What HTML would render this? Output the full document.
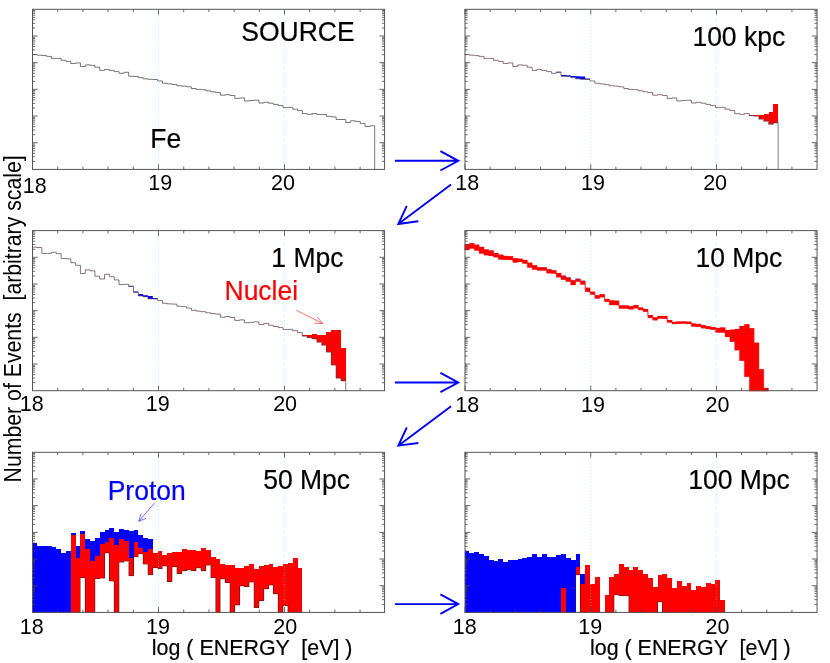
<!DOCTYPE html>
<html><head><meta charset="utf-8"><title>Fe propagation spectra</title>
<style>html,body{margin:0;padding:0;background:#fff;}body{width:830px;height:663px;overflow:hidden;position:relative;font-family:"Liberation Sans",sans-serif;}</style></head>
<body>
<svg width="830" height="663" viewBox="0 0 830 663" style="position:absolute;left:0;top:0;will-change:transform" font-family="'Liberation Sans', sans-serif">
<rect width="830" height="663" fill="#fff"/>
<path d="M32.2 54.5H37.02V55.2H41.85V55.6H46.67V56.4H51.5V58.4H56.32V58.4H61.14V60.3H65.97V61.4H70.79V63.5H75.62V62.9H80.44V66.5H85.26V64.9H90.09V65.3H94.91V67.2H99.74V70.4H104.56V69.4H109.38V70.4H114.21V71.6H119.03V73.3H123.86V72.3H128.68V76.2H133.5V76.5H138.33V77.6H143.15V78.8H147.98V79.3H152.8V79.5H157.62V81H162.45V83.2H167.27V83.9H172.1V84.6H176.92V85.8H181.74V86.1H186.57V86.8H191.39V88.5H196.22V89.4H201.04V89.7H205.86V90.8H210.69V91.8H215.51V92.6H220.34V95.2H225.16V94.7H229.98V95.5H234.81V98.4H239.63V97.9H244.46V101H249.28V100.5H254.1V100.2H258.93V103H263.75V102.3H268.58V103.2H273.4V104.4H278.22V105.6H283.05V107.6H287.87V107.3H292.7V109.2H297.52V110.6H302.34V113.6H307.17V114.3H311.99V113.6H316.82V114.5H321.64V114.5H326.46V116.3H331.29V116.9H336.11V119.5H340.94V119.5H345.76V122.5H350.58V120.8H355.41V121.4H360.23V123.4H365.06V126.5H369.88V125.8H374.7V169.1" fill="none" stroke="#4a4a4a" stroke-width="0.75"/>
<line x1="158.5" y1="9" x2="158.5" y2="169.4" stroke="#4ff" stroke-width="1" stroke-dasharray="1 2" opacity="0.42"/>
<line x1="284.5" y1="9" x2="284.5" y2="169.4" stroke="#4ff" stroke-width="1" stroke-dasharray="1 2" opacity="0.42"/>
<path d="M32.5 169.4v-5.2M32.5 9.3v5.2M57.7 169.4v-2.8M57.7 9.3v2.8M82.9 169.4v-2.8M82.9 9.3v2.8M108.1 169.4v-2.8M108.1 9.3v2.8M133.3 169.4v-2.8M133.3 9.3v2.8M158.5 169.4v-5.2M158.5 9.3v5.2M183.7 169.4v-2.8M183.7 9.3v2.8M208.9 169.4v-2.8M208.9 9.3v2.8M234.1 169.4v-2.8M234.1 9.3v2.8M259.3 169.4v-2.8M259.3 9.3v2.8M284.5 169.4v-5.2M284.5 9.3v5.2M309.7 169.4v-2.8M309.7 9.3v2.8M334.9 169.4v-2.8M334.9 9.3v2.8M360.1 169.4v-2.8M360.1 9.3v2.8M32.5 161.37h2.6M384.55 161.37h-2.6M32.5 156.67h2.6M384.55 156.67h-2.6M32.5 153.34h2.6M384.55 153.34h-2.6M32.5 150.75h2.6M384.55 150.75h-2.6M32.5 148.64h2.6M384.55 148.64h-2.6M32.5 146.85h2.6M384.55 146.85h-2.6M32.5 145.3h2.6M384.55 145.3h-2.6M32.5 143.94h2.6M384.55 143.94h-2.6M32.5 142.72h5.2M384.55 142.72h-5.2M32.5 134.68h2.6M384.55 134.68h-2.6M32.5 129.99h2.6M384.55 129.99h-2.6M32.5 126.65h2.6M384.55 126.65h-2.6M32.5 124.07h2.6M384.55 124.07h-2.6M32.5 121.95h2.6M384.55 121.95h-2.6M32.5 120.17h2.6M384.55 120.17h-2.6M32.5 118.62h2.6M384.55 118.62h-2.6M32.5 117.25h2.6M384.55 117.25h-2.6M32.5 116.03h5.2M384.55 116.03h-5.2M32.5 108h2.6M384.55 108h-2.6M32.5 103.3h2.6M384.55 103.3h-2.6M32.5 99.97h2.6M384.55 99.97h-2.6M32.5 97.38h2.6M384.55 97.38h-2.6M32.5 95.27h2.6M384.55 95.27h-2.6M32.5 93.48h2.6M384.55 93.48h-2.6M32.5 91.94h2.6M384.55 91.94h-2.6M32.5 90.57h2.6M384.55 90.57h-2.6M32.5 89.35h5.2M384.55 89.35h-5.2M32.5 81.32h2.6M384.55 81.32h-2.6M32.5 76.62h2.6M384.55 76.62h-2.6M32.5 73.29h2.6M384.55 73.29h-2.6M32.5 70.7h2.6M384.55 70.7h-2.6M32.5 68.59h2.6M384.55 68.59h-2.6M32.5 66.8h2.6M384.55 66.8h-2.6M32.5 65.25h2.6M384.55 65.25h-2.6M32.5 63.89h2.6M384.55 63.89h-2.6M32.5 62.67h5.2M384.55 62.67h-5.2M32.5 54.63h2.6M384.55 54.63h-2.6M32.5 49.94h2.6M384.55 49.94h-2.6M32.5 46.6h2.6M384.55 46.6h-2.6M32.5 44.02h2.6M384.55 44.02h-2.6M32.5 41.9h2.6M384.55 41.9h-2.6M32.5 40.12h2.6M384.55 40.12h-2.6M32.5 38.57h2.6M384.55 38.57h-2.6M32.5 37.2h2.6M384.55 37.2h-2.6M32.5 35.98h5.2M384.55 35.98h-5.2M32.5 27.95h2.6M384.55 27.95h-2.6M32.5 23.25h2.6M384.55 23.25h-2.6M32.5 19.92h2.6M384.55 19.92h-2.6M32.5 17.33h2.6M384.55 17.33h-2.6M32.5 15.22h2.6M384.55 15.22h-2.6M32.5 13.43h2.6M384.55 13.43h-2.6M32.5 11.89h2.6M384.55 11.89h-2.6M32.5 10.52h2.6M384.55 10.52h-2.6" stroke="#444" stroke-width="0.8" fill="none"/>
<rect x="32.5" y="9.3" width="352.05" height="160.1" fill="none" stroke="#555" stroke-width="1"/>
<text x="34.8" y="192.8" font-size="21.5" text-anchor="middle" fill="#000">18</text>
<text x="160.3" y="190" font-size="21.5" text-anchor="middle" fill="#000">19</text>
<text x="282.9" y="190" font-size="21.5" text-anchor="middle" fill="#000">20</text>
<path d="M749.22 114.7H754.04V115.6H749.22ZM754.04 114.7H758.86V116.2H754.04ZM758.86 115H763.69V119.2H758.86ZM763.69 113.8H768.51V121.3H763.69ZM768.51 112.3H773.34V124.3H768.51ZM773.34 103.8H778.16V122.8H773.34Z" fill="#f00" stroke="none" shape-rendering="crispEdges"/>
<path d="M556.26 71.8H561.08V72.4H556.26ZM561.08 74.9H565.9V76.2H561.08ZM565.9 75.3H570.73V76.6H565.9ZM570.73 75.9H575.55V77.6H570.73ZM575.55 76.3H580.38V78.8H575.55ZM580.38 76.5H585.2V79.3H580.38ZM585.2 78.6H590.02V79.5H585.2Z" fill="#00f" stroke="none"/>
<path d="M464.6 54.5H469.42V55.2H474.25V55.6H479.07V56.4H483.9V58.4H488.72V58.4H493.54V60.3H498.37V61.4H503.19V63.5H508.02V62.9H512.84V66.5H517.66V64.9H522.49V65.3H527.31V67.2H532.14V70.4H536.96V69.4H541.78V70.4H546.61V71.6H551.43V73.3H556.26V72.3H561.08V76.2H565.9V76.5H570.73V77.6H575.55V78.8H580.38V79.3H585.2V79.5H590.02V81H594.85V83.2H599.67V83.9H604.5V84.6H609.32V85.8H614.14V86.1H618.97V86.8H623.79V88.5H628.62V89.4H633.44V89.7H638.26V90.8H643.09V91.8H647.91V92.6H652.74V95.2H657.56V94.7H662.38V95.5H667.21V98.4H672.03V97.9H676.86V101H681.68V100.5H686.5V100.2H691.33V103H696.15V102.3H700.98V103.2H705.8V104.4H710.62V105.6H715.45V107.6H720.27V107.3H725.1V109.2H729.92V110.6H734.74V113.6H739.57V114.3H744.39V113.6H749.22V115.6H754.04V116.2H758.86V119.2H763.69V121.3H768.51V124.3H773.34V122.8H778.16V169.1" fill="none" stroke="#5a3a46" stroke-width="0.7"/>
<line x1="590.75" y1="9" x2="590.75" y2="169.4" stroke="#4ff" stroke-width="1" stroke-dasharray="1 2" opacity="0.42"/>
<line x1="716.5" y1="9" x2="716.5" y2="169.4" stroke="#4ff" stroke-width="1" stroke-dasharray="1 2" opacity="0.42"/>
<path d="M465 169.4v-5.2M465 9.3v5.2M490.15 169.4v-2.8M490.15 9.3v2.8M515.3 169.4v-2.8M515.3 9.3v2.8M540.45 169.4v-2.8M540.45 9.3v2.8M565.6 169.4v-2.8M565.6 9.3v2.8M590.75 169.4v-5.2M590.75 9.3v5.2M615.9 169.4v-2.8M615.9 9.3v2.8M641.05 169.4v-2.8M641.05 9.3v2.8M666.2 169.4v-2.8M666.2 9.3v2.8M691.35 169.4v-2.8M691.35 9.3v2.8M716.5 169.4v-5.2M716.5 9.3v5.2M741.65 169.4v-2.8M741.65 9.3v2.8M766.8 169.4v-2.8M766.8 9.3v2.8M791.95 169.4v-2.8M791.95 9.3v2.8M465 161.37h2.6M817.05 161.37h-2.6M465 156.67h2.6M817.05 156.67h-2.6M465 153.34h2.6M817.05 153.34h-2.6M465 150.75h2.6M817.05 150.75h-2.6M465 148.64h2.6M817.05 148.64h-2.6M465 146.85h2.6M817.05 146.85h-2.6M465 145.3h2.6M817.05 145.3h-2.6M465 143.94h2.6M817.05 143.94h-2.6M465 142.72h5.2M817.05 142.72h-5.2M465 134.68h2.6M817.05 134.68h-2.6M465 129.99h2.6M817.05 129.99h-2.6M465 126.65h2.6M817.05 126.65h-2.6M465 124.07h2.6M817.05 124.07h-2.6M465 121.95h2.6M817.05 121.95h-2.6M465 120.17h2.6M817.05 120.17h-2.6M465 118.62h2.6M817.05 118.62h-2.6M465 117.25h2.6M817.05 117.25h-2.6M465 116.03h5.2M817.05 116.03h-5.2M465 108h2.6M817.05 108h-2.6M465 103.3h2.6M817.05 103.3h-2.6M465 99.97h2.6M817.05 99.97h-2.6M465 97.38h2.6M817.05 97.38h-2.6M465 95.27h2.6M817.05 95.27h-2.6M465 93.48h2.6M817.05 93.48h-2.6M465 91.94h2.6M817.05 91.94h-2.6M465 90.57h2.6M817.05 90.57h-2.6M465 89.35h5.2M817.05 89.35h-5.2M465 81.32h2.6M817.05 81.32h-2.6M465 76.62h2.6M817.05 76.62h-2.6M465 73.29h2.6M817.05 73.29h-2.6M465 70.7h2.6M817.05 70.7h-2.6M465 68.59h2.6M817.05 68.59h-2.6M465 66.8h2.6M817.05 66.8h-2.6M465 65.25h2.6M817.05 65.25h-2.6M465 63.89h2.6M817.05 63.89h-2.6M465 62.67h5.2M817.05 62.67h-5.2M465 54.63h2.6M817.05 54.63h-2.6M465 49.94h2.6M817.05 49.94h-2.6M465 46.6h2.6M817.05 46.6h-2.6M465 44.02h2.6M817.05 44.02h-2.6M465 41.9h2.6M817.05 41.9h-2.6M465 40.12h2.6M817.05 40.12h-2.6M465 38.57h2.6M817.05 38.57h-2.6M465 37.2h2.6M817.05 37.2h-2.6M465 35.98h5.2M817.05 35.98h-5.2M465 27.95h2.6M817.05 27.95h-2.6M465 23.25h2.6M817.05 23.25h-2.6M465 19.92h2.6M817.05 19.92h-2.6M465 17.33h2.6M817.05 17.33h-2.6M465 15.22h2.6M817.05 15.22h-2.6M465 13.43h2.6M817.05 13.43h-2.6M465 11.89h2.6M817.05 11.89h-2.6M465 10.52h2.6M817.05 10.52h-2.6" stroke="#444" stroke-width="0.8" fill="none"/>
<rect x="465" y="9.3" width="352.05" height="160.1" fill="none" stroke="#555" stroke-width="1"/>
<text x="467.15" y="190" font-size="21.5" text-anchor="middle" fill="#000">18</text>
<text x="593.05" y="190" font-size="21.5" text-anchor="middle" fill="#000">19</text>
<text x="715.1" y="190" font-size="21.5" text-anchor="middle" fill="#000">20</text>
<path d="M302.34 334.7H307.17V336.2H302.34ZM307.17 334.7H311.99V337.6H307.17ZM311.99 334H316.82V338.8H311.99ZM316.82 334.7H321.64V342.3H316.82ZM321.64 334.7H326.46V345.3H321.64ZM326.46 332.1H331.29V352.1H326.46ZM331.29 329.7H336.11V365.1H331.29ZM336.11 329.7H340.94V378.2H336.11ZM340.94 348.1H345.76V380.8H340.94Z" fill="#f00" stroke="none" shape-rendering="crispEdges"/>
<path d="M128.68 285.8H133.5V286.6H128.68ZM133.5 291.6H138.33V292.4H133.5ZM138.33 294.1H143.15V296.1H138.33ZM143.15 295.2H147.98V296.9H143.15ZM147.98 296.1H152.8V299H147.98ZM152.8 298.1H157.62V298.9H152.8Z" fill="#00f" stroke="none"/>
<path d="M32.2 247.2H37.02V247.5H41.85V253.4H46.67V253.4H51.5V252.3H56.32V253.7H61.14V258.5H65.97V258.8H70.79V262.7H75.62V265.3H80.44V273.5H85.26V269.9H90.09V270.8H94.91V276.2H99.74V279H104.56V274.3H109.38V276.7H114.21V279.9H119.03V284.6H123.86V284.4H128.68V286.5H133.5V292.3H138.33V295.9H143.15V296.7H147.98V298.8H152.8V298.9H157.62V300.5H162.45V303.3H167.27V303.9H172.1V304.1H176.92V306.3H181.74V306.6H186.57V308.1H191.39V310.3H196.22V311.1H201.04V311.7H205.86V312.8H210.69V313.6H215.51V314.1H220.34V317.3H225.16V316.5H229.98V317.5H234.81V320.4H239.63V319.9H244.46V322.7H249.28V322.3H254.1V321.9H258.93V324.6H263.75V323.4H268.58V325.3H273.4V326.5H278.22V327.6H283.05V329.5H287.87V329.4H292.7V330.7H297.52V332.6H302.34V336.2H307.17V337.6H311.99V338.8H316.82V342.3H321.64V345.3H326.46V352.1H331.29V365.1H336.11V378.2H340.94V380.8H345.76V391.2" fill="none" stroke="#5a3a46" stroke-width="0.7"/>
<line x1="158.5" y1="230" x2="158.5" y2="390.7" stroke="#4ff" stroke-width="1" stroke-dasharray="1 2" opacity="0.42"/>
<line x1="284.5" y1="230" x2="284.5" y2="390.7" stroke="#4ff" stroke-width="1" stroke-dasharray="1 2" opacity="0.42"/>
<path d="M32.5 390.7v-5.2M32.5 230.6v5.2M57.7 390.7v-2.8M57.7 230.6v2.8M82.9 390.7v-2.8M82.9 230.6v2.8M108.1 390.7v-2.8M108.1 230.6v2.8M133.3 390.7v-2.8M133.3 230.6v2.8M158.5 390.7v-5.2M158.5 230.6v5.2M183.7 390.7v-2.8M183.7 230.6v2.8M208.9 390.7v-2.8M208.9 230.6v2.8M234.1 390.7v-2.8M234.1 230.6v2.8M259.3 390.7v-2.8M259.3 230.6v2.8M284.5 390.7v-5.2M284.5 230.6v5.2M309.7 390.7v-2.8M309.7 230.6v2.8M334.9 390.7v-2.8M334.9 230.6v2.8M360.1 390.7v-2.8M360.1 230.6v2.8M32.5 382.67h2.6M384.55 382.67h-2.6M32.5 377.97h2.6M384.55 377.97h-2.6M32.5 374.64h2.6M384.55 374.64h-2.6M32.5 372.05h2.6M384.55 372.05h-2.6M32.5 369.94h2.6M384.55 369.94h-2.6M32.5 368.15h2.6M384.55 368.15h-2.6M32.5 366.6h2.6M384.55 366.6h-2.6M32.5 365.24h2.6M384.55 365.24h-2.6M32.5 364.02h5.2M384.55 364.02h-5.2M32.5 355.98h2.6M384.55 355.98h-2.6M32.5 351.29h2.6M384.55 351.29h-2.6M32.5 347.95h2.6M384.55 347.95h-2.6M32.5 345.37h2.6M384.55 345.37h-2.6M32.5 343.25h2.6M384.55 343.25h-2.6M32.5 341.47h2.6M384.55 341.47h-2.6M32.5 339.92h2.6M384.55 339.92h-2.6M32.5 338.55h2.6M384.55 338.55h-2.6M32.5 337.33h5.2M384.55 337.33h-5.2M32.5 329.3h2.6M384.55 329.3h-2.6M32.5 324.6h2.6M384.55 324.6h-2.6M32.5 321.27h2.6M384.55 321.27h-2.6M32.5 318.68h2.6M384.55 318.68h-2.6M32.5 316.57h2.6M384.55 316.57h-2.6M32.5 314.78h2.6M384.55 314.78h-2.6M32.5 313.24h2.6M384.55 313.24h-2.6M32.5 311.87h2.6M384.55 311.87h-2.6M32.5 310.65h5.2M384.55 310.65h-5.2M32.5 302.62h2.6M384.55 302.62h-2.6M32.5 297.92h2.6M384.55 297.92h-2.6M32.5 294.59h2.6M384.55 294.59h-2.6M32.5 292h2.6M384.55 292h-2.6M32.5 289.89h2.6M384.55 289.89h-2.6M32.5 288.1h2.6M384.55 288.1h-2.6M32.5 286.55h2.6M384.55 286.55h-2.6M32.5 285.19h2.6M384.55 285.19h-2.6M32.5 283.97h5.2M384.55 283.97h-5.2M32.5 275.93h2.6M384.55 275.93h-2.6M32.5 271.24h2.6M384.55 271.24h-2.6M32.5 267.9h2.6M384.55 267.9h-2.6M32.5 265.32h2.6M384.55 265.32h-2.6M32.5 263.2h2.6M384.55 263.2h-2.6M32.5 261.42h2.6M384.55 261.42h-2.6M32.5 259.87h2.6M384.55 259.87h-2.6M32.5 258.5h2.6M384.55 258.5h-2.6M32.5 257.28h5.2M384.55 257.28h-5.2M32.5 249.25h2.6M384.55 249.25h-2.6M32.5 244.55h2.6M384.55 244.55h-2.6M32.5 241.22h2.6M384.55 241.22h-2.6M32.5 238.63h2.6M384.55 238.63h-2.6M32.5 236.52h2.6M384.55 236.52h-2.6M32.5 234.73h2.6M384.55 234.73h-2.6M32.5 233.19h2.6M384.55 233.19h-2.6M32.5 231.82h2.6M384.55 231.82h-2.6" stroke="#444" stroke-width="0.8" fill="none"/>
<rect x="32.5" y="230.6" width="352.05" height="160.1" fill="none" stroke="#555" stroke-width="1"/>
<text x="31.7" y="411.4" font-size="21.5" text-anchor="middle" fill="#000">18</text>
<text x="157.8" y="411.4" font-size="21.5" text-anchor="middle" fill="#000">19</text>
<text x="285.1" y="411.4" font-size="21.5" text-anchor="middle" fill="#000">20</text>
<path d="M536.96 267H541.78V267.7H536.96ZM546.61 269.1H551.43V269.8H546.61ZM551.43 269.9H556.26V270.6H551.43ZM561.08 275.4H565.9V276.1H561.08ZM565.9 277.3H570.73V278H565.9ZM570.73 280.1H575.55V280.8H570.73ZM575.55 278.6H580.38V279.3H575.55ZM580.38 280.6H585.2V281.3H580.38Z" fill="#22f" stroke="none" opacity="0.8"/>
<path d="M464.6 249.85H469.42V248.35H474.25V250.25H479.07V253.15H483.9V254.95H488.72V255.65H493.54V257.05H498.37V259.25H503.19V259.55H508.02V259.65H512.84V262.15H517.66V261.75H522.49V263.35H527.31V267.25H532.14V269.35H536.96V270.15H541.78V270.15H546.61V273.05H551.43V273.25H556.26V276.95H561.08V279.55H565.9V281.35H570.73V284.75H575.55V281.35H580.38V284.15H585.2V291.45H590.02V294.35H594.85V298.35H599.67V296.95H604.5V301.55H609.32V304.85H614.14V304.85H618.97V308.35H623.79V308.35H628.62V309.05H633.44V308.05H638.26V309.85H643.09V311.45H647.91V317.75H652.74V320.05H657.56V318.25H662.38V318.45H667.21V322.25H672.03V323.75H676.86V323.45H681.68V323.25H686.5V323.65H691.33V326.25H696.15V326.55H700.98V327.95H705.8V328.75H710.62V329.45H715.45V332.35H720.27V332.35H725.1V336.65H729.92V341.45H734.74V349.95H739.57V360.55H744.39V376.45H749.22" fill="none" stroke="#e00" stroke-width="0.5"/>
<path d="M464.6 244.55H469.42V243.55H474.25V244.95H479.07V247.15H483.9V249.65H488.72V250.65H493.54V253.25H498.37V254.95H503.19V256.15H508.02V256.45H512.84V258.55H517.66V259.05H522.49V260.15H527.31V263.05H532.14V265.55H536.96V267.75H541.78V267.45H546.61V269.85H551.43V270.65H556.26V273.25H561.08V276.15H565.9V278.05H570.73V280.85H575.55V279.35H580.38V281.35H585.2V288.05H590.02V291.95H594.85V295.55H599.67V294.55H604.5V299.15H609.32V300.65H614.14V300.95H618.97V305.65H623.79V305.65H628.62V306.45H633.44V305.35H638.26V307.85H643.09V309.25H647.91V315.35H652.74V317.65H657.56V316.25H662.38V316.25H667.21V320.35H672.03V322.15H676.86V321.65H681.68V321.75H686.5V321.95H691.33V323.85H696.15V324.15H700.98V325.55H705.8V326.55H710.62V327.35H715.45V328.15H720.27V327.75H725.1V330.25H729.92V329.95H734.74V329.25H739.57V326.35H744.39V324.55H749.22V328.45H754.04V342.95H758.86V369.45H763.69V388.25H768.51" fill="none" stroke="#e00" stroke-width="0.5"/>
<path d="M464.6 244.3H469.52V250.1H464.6ZM469.42 243.3H474.34V248.6H469.42ZM474.25 244.7H479.17V250.5H474.25ZM479.07 246.9H483.99V253.4H479.07ZM483.9 249.4H488.82V255.2H483.9ZM488.72 250.4H493.64V255.9H488.72ZM493.54 253H498.46V257.3H493.54ZM498.37 254.7H503.29V259.5H498.37ZM503.19 255.9H508.11V259.8H503.19ZM508.02 256.2H512.94V259.9H508.02ZM512.84 258.3H517.76V262.4H512.84ZM517.66 258.8H522.58V262H517.66ZM522.49 259.9H527.41V263.6H522.49ZM527.31 262.8H532.23V267.5H527.31ZM532.14 265.3H537.06V269.6H532.14ZM536.96 267.5H541.88V270.4H536.96ZM541.78 267.2H546.7V270.4H541.78ZM546.61 269.6H551.53V273.3H546.61ZM551.43 270.4H556.35V273.5H551.43ZM556.26 273H561.18V277.2H556.26ZM561.08 275.9H566V279.8H561.08ZM565.9 277.8H570.82V281.6H565.9ZM570.73 280.6H575.65V285H570.73ZM575.55 279.1H580.47V281.6H575.55ZM580.38 281.1H585.3V284.4H580.38ZM585.2 287.8H590.12V291.7H585.2ZM590.02 291.7H594.94V294.6H590.02ZM594.85 295.3H599.77V298.6H594.85ZM599.67 294.3H604.59V297.2H599.67ZM604.5 298.9H609.42V301.8H604.5ZM609.32 300.4H614.24V305.1H609.32ZM614.14 300.7H619.06V305.1H614.14ZM618.97 305.4H623.89V308.6H618.97ZM623.79 305.4H628.71V308.6H623.79ZM628.62 306.2H633.54V309.3H628.62ZM633.44 305.1H638.36V308.3H633.44ZM638.26 307.6H643.18V310.1H638.26ZM643.09 309H648.01V311.7H643.09ZM647.91 315.1H652.83V318H647.91ZM652.74 317.4H657.66V320.3H652.74ZM657.56 316H662.48V318.5H657.56ZM662.38 316H667.3V318.7H662.38ZM667.21 320.1H672.13V322.5H667.21ZM672.03 321.9H676.95V324H672.03ZM676.86 321.4H681.78V323.7H676.86ZM681.68 321.5H686.6V323.5H681.68ZM686.5 321.7H691.42V323.9H686.5ZM691.33 323.6H696.25V326.5H691.33ZM696.15 323.9H701.07V326.8H696.15ZM700.98 325.3H705.9V328.2H700.98ZM705.8 326.3H710.72V329H705.8ZM710.62 327.1H715.54V329.7H710.62ZM715.45 327.9H720.37V332.6H715.45ZM720.27 327.5H725.19V332.6H720.27ZM725.1 330H730.02V336.9H725.1ZM729.92 329.7H734.84V341.7H729.92ZM734.74 329H739.66V350.2H734.74ZM739.57 326.1H744.49V360.8H739.57ZM744.39 324.3H749.31V376.7H744.39ZM749.22 328.2H754.14V391.2H749.22ZM754.04 342.7H758.96V391.2H754.04ZM758.86 369.2H763.78V391.2H758.86ZM763.69 388H768.61V391.2H763.69Z" fill="#f00" stroke="none"/>
<line x1="590.75" y1="230" x2="590.75" y2="390.7" stroke="#4ff" stroke-width="1" stroke-dasharray="1 2" opacity="0.42"/>
<line x1="716.5" y1="230" x2="716.5" y2="390.7" stroke="#4ff" stroke-width="1" stroke-dasharray="1 2" opacity="0.42"/>
<path d="M465 390.7v-5.2M465 230.6v5.2M490.15 390.7v-2.8M490.15 230.6v2.8M515.3 390.7v-2.8M515.3 230.6v2.8M540.45 390.7v-2.8M540.45 230.6v2.8M565.6 390.7v-2.8M565.6 230.6v2.8M590.75 390.7v-5.2M590.75 230.6v5.2M615.9 390.7v-2.8M615.9 230.6v2.8M641.05 390.7v-2.8M641.05 230.6v2.8M666.2 390.7v-2.8M666.2 230.6v2.8M691.35 390.7v-2.8M691.35 230.6v2.8M716.5 390.7v-5.2M716.5 230.6v5.2M741.65 390.7v-2.8M741.65 230.6v2.8M766.8 390.7v-2.8M766.8 230.6v2.8M791.95 390.7v-2.8M791.95 230.6v2.8M465 382.67h2.6M817.05 382.67h-2.6M465 377.97h2.6M817.05 377.97h-2.6M465 374.64h2.6M817.05 374.64h-2.6M465 372.05h2.6M817.05 372.05h-2.6M465 369.94h2.6M817.05 369.94h-2.6M465 368.15h2.6M817.05 368.15h-2.6M465 366.6h2.6M817.05 366.6h-2.6M465 365.24h2.6M817.05 365.24h-2.6M465 364.02h5.2M817.05 364.02h-5.2M465 355.98h2.6M817.05 355.98h-2.6M465 351.29h2.6M817.05 351.29h-2.6M465 347.95h2.6M817.05 347.95h-2.6M465 345.37h2.6M817.05 345.37h-2.6M465 343.25h2.6M817.05 343.25h-2.6M465 341.47h2.6M817.05 341.47h-2.6M465 339.92h2.6M817.05 339.92h-2.6M465 338.55h2.6M817.05 338.55h-2.6M465 337.33h5.2M817.05 337.33h-5.2M465 329.3h2.6M817.05 329.3h-2.6M465 324.6h2.6M817.05 324.6h-2.6M465 321.27h2.6M817.05 321.27h-2.6M465 318.68h2.6M817.05 318.68h-2.6M465 316.57h2.6M817.05 316.57h-2.6M465 314.78h2.6M817.05 314.78h-2.6M465 313.24h2.6M817.05 313.24h-2.6M465 311.87h2.6M817.05 311.87h-2.6M465 310.65h5.2M817.05 310.65h-5.2M465 302.62h2.6M817.05 302.62h-2.6M465 297.92h2.6M817.05 297.92h-2.6M465 294.59h2.6M817.05 294.59h-2.6M465 292h2.6M817.05 292h-2.6M465 289.89h2.6M817.05 289.89h-2.6M465 288.1h2.6M817.05 288.1h-2.6M465 286.55h2.6M817.05 286.55h-2.6M465 285.19h2.6M817.05 285.19h-2.6M465 283.97h5.2M817.05 283.97h-5.2M465 275.93h2.6M817.05 275.93h-2.6M465 271.24h2.6M817.05 271.24h-2.6M465 267.9h2.6M817.05 267.9h-2.6M465 265.32h2.6M817.05 265.32h-2.6M465 263.2h2.6M817.05 263.2h-2.6M465 261.42h2.6M817.05 261.42h-2.6M465 259.87h2.6M817.05 259.87h-2.6M465 258.5h2.6M817.05 258.5h-2.6M465 257.28h5.2M817.05 257.28h-5.2M465 249.25h2.6M817.05 249.25h-2.6M465 244.55h2.6M817.05 244.55h-2.6M465 241.22h2.6M817.05 241.22h-2.6M465 238.63h2.6M817.05 238.63h-2.6M465 236.52h2.6M817.05 236.52h-2.6M465 234.73h2.6M817.05 234.73h-2.6M465 233.19h2.6M817.05 233.19h-2.6M465 231.82h2.6M817.05 231.82h-2.6" stroke="#444" stroke-width="0.8" fill="none"/>
<rect x="465" y="230.6" width="352.05" height="160.1" fill="none" stroke="#555" stroke-width="1"/>
<text x="467.15" y="411.9" font-size="21.5" text-anchor="middle" fill="#000">18</text>
<text x="593.05" y="411.9" font-size="21.5" text-anchor="middle" fill="#000">19</text>
<text x="717.55" y="411.9" font-size="21.5" text-anchor="middle" fill="#000">20</text>
<path d="M32.2 542.9H37.02V612.7H32.2ZM37.02 546.1H41.85V612.7H37.02ZM41.85 546.3H46.67V612.7H41.85ZM46.67 546.3H51.5V612.7H46.67ZM51.5 547.2H56.32V612.7H51.5ZM56.32 548.7H61.14V612.7H56.32ZM61.14 552.6H65.97V612.7H61.14ZM65.97 551.1H70.79V612.7H65.97ZM70.79 533H75.62V612.7H70.79ZM75.62 546.3H80.44V612.7H75.62ZM80.44 530.9H85.26V612.7H80.44ZM85.26 539.1H90.09V612.7H85.26ZM90.09 541.4H94.91V612.7H90.09ZM94.91 538.1H99.74V612.7H94.91ZM99.74 532.3H104.56V612.7H99.74ZM104.56 529.8H109.38V612.7H104.56ZM109.38 528.4H114.21V612.7H109.38ZM114.21 531.6H119.03V612.7H114.21ZM119.03 529.4H123.86V612.7H119.03ZM123.86 529.8H128.68V612.7H123.86ZM128.68 531.3H133.5V612.7H128.68ZM133.5 529.8H138.33V612.7H133.5ZM138.33 534.8H143.15V612.7H138.33ZM143.15 538.1H147.98V612.7H143.15ZM147.98 538.8H152.8V612.7H147.98Z" fill="#00f" stroke="none" shape-rendering="crispEdges"/>
<path d="M70.79 534.9H75.62V612.7H70.79ZM75.62 558.4H80.44V612.7H75.62ZM80.44 534H85.26V612.7H80.44ZM85.26 548.7H90.09V612.7H85.26ZM90.09 561.3H94.91V612.7H90.09ZM94.91 555.9H99.74V612.7H94.91ZM99.74 543.9H104.56V612.7H99.74ZM104.56 542.4H109.38V612.7H104.56ZM109.38 537.8H114.21V612.7H109.38ZM114.21 545.3H119.03V612.7H114.21ZM119.03 539.1H123.86V612.7H119.03ZM123.86 541.4H128.68V612.7H123.86ZM128.68 557.9H133.5V612.7H128.68ZM133.5 542H138.33V612.7H133.5ZM138.33 547.9H143.15V612.7H138.33ZM143.15 552.1H147.98V612.7H143.15ZM147.98 549H152.8V612.7H147.98ZM152.8 553H157.62V612.7H152.8ZM157.62 551.1H162.45V612.7H157.62ZM162.45 554.5H167.27V612.7H162.45ZM167.27 553.3H172.1V612.7H167.27ZM172.1 552.1H176.92V612.7H172.1ZM176.92 551.8H181.74V612.7H176.92ZM181.74 549H186.57V612.7H181.74ZM186.57 550H191.39V612.7H186.57ZM191.39 550.4H196.22V612.7H191.39ZM196.22 551.1H201.04V612.7H196.22ZM201.04 547.9H205.86V612.7H201.04ZM205.86 550H210.69V612.7H205.86ZM210.69 557.3H215.51V612.7H210.69ZM215.51 559.1H220.34V612.7H215.51ZM220.34 563.9H225.16V612.7H220.34ZM225.16 564.9H229.98V612.7H225.16ZM229.98 565.3H234.81V612.7H229.98ZM234.81 567.8H239.63V612.7H234.81ZM239.63 567.8H244.46V612.7H239.63ZM244.46 566.3H249.28V612.7H244.46ZM249.28 564.2H254.1V612.7H249.28ZM254.1 569.2H258.93V612.7H254.1ZM258.93 566H263.75V612.7H258.93ZM263.75 564.6H268.58V612.7H263.75ZM268.58 563.9H273.4V612.7H268.58ZM273.4 567H278.22V612.7H273.4ZM278.22 565.6H283.05V612.7H278.22ZM283.05 564.2H287.87V612.7H283.05ZM287.87 563.1H292.7V612.7H287.87ZM292.7 558.4H297.52V612.7H292.7ZM297.52 567.8H302.34V612.7H297.52Z" fill="#f00" stroke="none" shape-rendering="crispEdges"/>
<path d="M80.44 577.6H85.26V612.7H80.44ZM94.91 578.6H99.74V612.7H94.91ZM99.74 578.3H104.56V612.7H99.74ZM104.56 553H109.38V612.7H104.56ZM109.38 581.1H114.21V612.7H109.38ZM119.03 562.4H123.86V612.7H119.03ZM123.86 561.3H128.68V612.7H123.86ZM128.68 575.7H133.5V612.7H128.68ZM133.5 556.9H138.33V612.7H133.5ZM138.33 553.7H143.15V612.7H138.33ZM143.15 564.2H147.98V612.7H143.15ZM147.98 574.7H152.8V612.7H147.98ZM152.8 567.5H157.62V612.7H152.8ZM157.62 568.5H162.45V612.7H157.62ZM162.45 566H167.27V612.7H162.45ZM167.27 581.5H172.1V612.7H167.27ZM172.1 566.6H176.92V612.7H172.1ZM176.92 573.6H181.74V612.7H176.92ZM181.74 570.7H186.57V612.7H181.74ZM186.57 569.9H191.39V612.7H186.57ZM191.39 570.7H196.22V612.7H191.39ZM196.22 567.8H201.04V612.7H196.22ZM201.04 570.7H205.86V612.7H201.04ZM205.86 565.3H210.69V612.7H205.86ZM210.69 577.6H215.51V612.7H210.69ZM220.34 578.9H225.16V612.7H220.34ZM225.16 582.5H229.98V612.7H225.16ZM234.81 605.1H239.63V612.7H234.81ZM239.63 585.9H244.46V612.7H239.63ZM244.46 586.6H249.28V612.7H244.46ZM249.28 582.2H254.1V612.7H249.28ZM254.1 607.6H258.93V612.7H254.1ZM258.93 600.6H263.75V612.7H258.93ZM263.75 588.8H268.58V612.7H263.75ZM268.58 585.1H273.4V612.7H268.58ZM273.4 593.8H278.22V612.7H273.4ZM283.05 605.7H287.87V612.7H283.05Z" fill="#fff" stroke="none" shape-rendering="crispEdges"/>
<path d="M80.44 612.7V577.6H85.26V612.7M94.91 612.7V578.6H99.74V578.3H104.56V553H109.38V581.1H114.21V612.7M119.03 612.7V562.4H123.86V561.3H128.68V575.7H133.5V556.9H138.33V553.7H143.15V564.2H147.98V574.7H152.8V567.5H157.62V568.5H162.45V566H167.27V581.5H172.1V566.6H176.92V573.6H181.74V570.7H186.57V569.9H191.39V570.7H196.22V567.8H201.04V570.7H205.86V565.3H210.69V577.6H215.51V612.7M220.34 612.7V578.9H225.16V582.5H229.98V612.7M234.81 612.7V605.1H239.63V585.9H244.46V586.6H249.28V582.2H254.1V607.6H258.93V600.6H263.75V588.8H268.58V585.1H273.4V593.8H278.22V612.7M283.05 612.7V605.7H287.87V612.7" fill="none" stroke="#222" stroke-width="0.5"/>
<line x1="158.5" y1="452" x2="158.5" y2="612.4" stroke="#4ff" stroke-width="1" stroke-dasharray="1 2" opacity="0.42"/>
<line x1="284.5" y1="452" x2="284.5" y2="612.4" stroke="#4ff" stroke-width="1" stroke-dasharray="1 2" opacity="0.42"/>
<path d="M32.5 612.4v-5.2M32.5 452.3v5.2M57.7 612.4v-2.8M57.7 452.3v2.8M82.9 612.4v-2.8M82.9 452.3v2.8M108.1 612.4v-2.8M108.1 452.3v2.8M133.3 612.4v-2.8M133.3 452.3v2.8M158.5 612.4v-5.2M158.5 452.3v5.2M183.7 612.4v-2.8M183.7 452.3v2.8M208.9 612.4v-2.8M208.9 452.3v2.8M234.1 612.4v-2.8M234.1 452.3v2.8M259.3 612.4v-2.8M259.3 452.3v2.8M284.5 612.4v-5.2M284.5 452.3v5.2M309.7 612.4v-2.8M309.7 452.3v2.8M334.9 612.4v-2.8M334.9 452.3v2.8M360.1 612.4v-2.8M360.1 452.3v2.8M32.5 604.37h2.6M384.55 604.37h-2.6M32.5 599.67h2.6M384.55 599.67h-2.6M32.5 596.34h2.6M384.55 596.34h-2.6M32.5 593.75h2.6M384.55 593.75h-2.6M32.5 591.64h2.6M384.55 591.64h-2.6M32.5 589.85h2.6M384.55 589.85h-2.6M32.5 588.3h2.6M384.55 588.3h-2.6M32.5 586.94h2.6M384.55 586.94h-2.6M32.5 585.72h5.2M384.55 585.72h-5.2M32.5 577.68h2.6M384.55 577.68h-2.6M32.5 572.99h2.6M384.55 572.99h-2.6M32.5 569.65h2.6M384.55 569.65h-2.6M32.5 567.07h2.6M384.55 567.07h-2.6M32.5 564.95h2.6M384.55 564.95h-2.6M32.5 563.17h2.6M384.55 563.17h-2.6M32.5 561.62h2.6M384.55 561.62h-2.6M32.5 560.25h2.6M384.55 560.25h-2.6M32.5 559.03h5.2M384.55 559.03h-5.2M32.5 551h2.6M384.55 551h-2.6M32.5 546.3h2.6M384.55 546.3h-2.6M32.5 542.97h2.6M384.55 542.97h-2.6M32.5 540.38h2.6M384.55 540.38h-2.6M32.5 538.27h2.6M384.55 538.27h-2.6M32.5 536.48h2.6M384.55 536.48h-2.6M32.5 534.94h2.6M384.55 534.94h-2.6M32.5 533.57h2.6M384.55 533.57h-2.6M32.5 532.35h5.2M384.55 532.35h-5.2M32.5 524.32h2.6M384.55 524.32h-2.6M32.5 519.62h2.6M384.55 519.62h-2.6M32.5 516.29h2.6M384.55 516.29h-2.6M32.5 513.7h2.6M384.55 513.7h-2.6M32.5 511.59h2.6M384.55 511.59h-2.6M32.5 509.8h2.6M384.55 509.8h-2.6M32.5 508.25h2.6M384.55 508.25h-2.6M32.5 506.89h2.6M384.55 506.89h-2.6M32.5 505.67h5.2M384.55 505.67h-5.2M32.5 497.63h2.6M384.55 497.63h-2.6M32.5 492.94h2.6M384.55 492.94h-2.6M32.5 489.6h2.6M384.55 489.6h-2.6M32.5 487.02h2.6M384.55 487.02h-2.6M32.5 484.9h2.6M384.55 484.9h-2.6M32.5 483.12h2.6M384.55 483.12h-2.6M32.5 481.57h2.6M384.55 481.57h-2.6M32.5 480.2h2.6M384.55 480.2h-2.6M32.5 478.98h5.2M384.55 478.98h-5.2M32.5 470.95h2.6M384.55 470.95h-2.6M32.5 466.25h2.6M384.55 466.25h-2.6M32.5 462.92h2.6M384.55 462.92h-2.6M32.5 460.33h2.6M384.55 460.33h-2.6M32.5 458.22h2.6M384.55 458.22h-2.6M32.5 456.43h2.6M384.55 456.43h-2.6M32.5 454.89h2.6M384.55 454.89h-2.6M32.5 453.52h2.6M384.55 453.52h-2.6" stroke="#444" stroke-width="0.8" fill="none"/>
<rect x="32.5" y="452.3" width="352.05" height="160.1" fill="none" stroke="#555" stroke-width="1"/>
<text x="31.8" y="633.6" font-size="21.5" text-anchor="middle" fill="#000">18</text>
<text x="158" y="633.6" font-size="21.5" text-anchor="middle" fill="#000">19</text>
<text x="285.3" y="633.6" font-size="21.5" text-anchor="middle" fill="#000">20</text>
<path d="M464.6 550.8H469.42V612.7H464.6ZM469.42 552.6H474.25V612.7H469.42ZM474.25 551.8H479.07V612.7H474.25ZM479.07 553.6H483.9V612.7H479.07ZM483.9 556.2H488.72V612.7H483.9ZM488.72 560.1H493.54V612.7H488.72ZM493.54 560.8H498.37V612.7H493.54ZM498.37 559.4H503.19V612.7H498.37ZM503.19 561.7H508.02V612.7H503.19ZM508.02 560.1H512.84V612.7H508.02ZM512.84 559.8H517.66V612.7H512.84ZM517.66 558.6H522.49V612.7H517.66ZM522.49 557.9H527.31V612.7H522.49ZM527.31 557.2H532.14V612.7H527.31ZM532.14 554.3H536.96V612.7H532.14ZM536.96 556.9H541.78V612.7H536.96ZM541.78 553.6H546.61V612.7H541.78ZM546.61 556.5H551.43V612.7H546.61ZM551.43 557.2H556.26V612.7H551.43ZM556.26 555.2H561.08V612.7H556.26ZM561.08 553.6H565.9V612.7H561.08ZM565.9 557.9H570.73V612.7H565.9ZM570.73 559.8H575.55V612.7H570.73ZM575.55 554.3H580.38V612.7H575.55ZM580.38 573.9H585.2V612.7H580.38Z" fill="#00f" stroke="none" shape-rendering="crispEdges"/>
<path d="M561.08 588.3H565.9V612.7H561.08ZM575.55 567.3H580.38V612.7H575.55ZM580.38 584.1H585.2V612.7H580.38ZM585.2 565.3H590.02V612.7H585.2ZM590.02 583.7H594.85V612.7H590.02ZM594.85 576.9H599.67V612.7H594.85ZM604.5 594.6H609.32V612.7H604.5ZM609.32 576.5H614.14V612.7H609.32ZM614.14 574H618.97V612.7H614.14ZM618.97 564.2H623.79V612.7H618.97ZM623.79 566.8H628.62V612.7H623.79ZM628.62 569.9H633.44V612.7H628.62ZM633.44 566.8H638.26V612.7H633.44ZM638.26 569.9H643.09V612.7H638.26ZM643.09 574H647.91V612.7H643.09ZM647.91 578.2H652.74V612.7H647.91ZM652.74 586.6H657.56V612.7H652.74ZM657.56 575H662.38V612.7H657.56ZM662.38 574.3H667.21V612.7H662.38ZM667.21 577.9H672.03V612.7H667.21ZM672.03 588.3H676.86V612.7H672.03ZM676.86 581.1H681.68V612.7H676.86ZM681.68 585.9H686.5V612.7H681.68ZM686.5 582.7H691.33V612.7H686.5ZM691.33 589.9H696.15V612.7H691.33ZM696.15 586.3H700.98V612.7H696.15ZM700.98 586.6H705.8V612.7H700.98ZM705.8 582.5H710.62V612.7H705.8ZM710.62 583.7H715.45V612.7H710.62ZM715.45 580.4H720.27V612.7H715.45ZM720.27 599.9H725.1V612.7H720.27Z" fill="#f00" stroke="none" shape-rendering="crispEdges"/>
<path d="M575.55 574.7H580.38V612.7H575.55ZM614.14 594.8H618.97V612.7H614.14ZM618.97 595.6H623.79V612.7H618.97ZM623.79 595.6H628.62V612.7H623.79ZM657.56 601.8H662.38V612.7H657.56Z" fill="#fff" stroke="none" shape-rendering="crispEdges"/>
<path d="M575.55 612.7V574.7H580.38V612.7M614.14 612.7V594.8H618.97V595.6H623.79V595.6H628.62V612.7M657.56 612.7V601.8H662.38V612.7" fill="none" stroke="#222" stroke-width="0.5"/>
<line x1="590.75" y1="452" x2="590.75" y2="612.4" stroke="#4ff" stroke-width="1" stroke-dasharray="1 2" opacity="0.42"/>
<line x1="716.5" y1="452" x2="716.5" y2="612.4" stroke="#4ff" stroke-width="1" stroke-dasharray="1 2" opacity="0.42"/>
<path d="M465 612.4v-5.2M465 452.3v5.2M490.15 612.4v-2.8M490.15 452.3v2.8M515.3 612.4v-2.8M515.3 452.3v2.8M540.45 612.4v-2.8M540.45 452.3v2.8M565.6 612.4v-2.8M565.6 452.3v2.8M590.75 612.4v-5.2M590.75 452.3v5.2M615.9 612.4v-2.8M615.9 452.3v2.8M641.05 612.4v-2.8M641.05 452.3v2.8M666.2 612.4v-2.8M666.2 452.3v2.8M691.35 612.4v-2.8M691.35 452.3v2.8M716.5 612.4v-5.2M716.5 452.3v5.2M741.65 612.4v-2.8M741.65 452.3v2.8M766.8 612.4v-2.8M766.8 452.3v2.8M791.95 612.4v-2.8M791.95 452.3v2.8M465 604.37h2.6M817.05 604.37h-2.6M465 599.67h2.6M817.05 599.67h-2.6M465 596.34h2.6M817.05 596.34h-2.6M465 593.75h2.6M817.05 593.75h-2.6M465 591.64h2.6M817.05 591.64h-2.6M465 589.85h2.6M817.05 589.85h-2.6M465 588.3h2.6M817.05 588.3h-2.6M465 586.94h2.6M817.05 586.94h-2.6M465 585.72h5.2M817.05 585.72h-5.2M465 577.68h2.6M817.05 577.68h-2.6M465 572.99h2.6M817.05 572.99h-2.6M465 569.65h2.6M817.05 569.65h-2.6M465 567.07h2.6M817.05 567.07h-2.6M465 564.95h2.6M817.05 564.95h-2.6M465 563.17h2.6M817.05 563.17h-2.6M465 561.62h2.6M817.05 561.62h-2.6M465 560.25h2.6M817.05 560.25h-2.6M465 559.03h5.2M817.05 559.03h-5.2M465 551h2.6M817.05 551h-2.6M465 546.3h2.6M817.05 546.3h-2.6M465 542.97h2.6M817.05 542.97h-2.6M465 540.38h2.6M817.05 540.38h-2.6M465 538.27h2.6M817.05 538.27h-2.6M465 536.48h2.6M817.05 536.48h-2.6M465 534.94h2.6M817.05 534.94h-2.6M465 533.57h2.6M817.05 533.57h-2.6M465 532.35h5.2M817.05 532.35h-5.2M465 524.32h2.6M817.05 524.32h-2.6M465 519.62h2.6M817.05 519.62h-2.6M465 516.29h2.6M817.05 516.29h-2.6M465 513.7h2.6M817.05 513.7h-2.6M465 511.59h2.6M817.05 511.59h-2.6M465 509.8h2.6M817.05 509.8h-2.6M465 508.25h2.6M817.05 508.25h-2.6M465 506.89h2.6M817.05 506.89h-2.6M465 505.67h5.2M817.05 505.67h-5.2M465 497.63h2.6M817.05 497.63h-2.6M465 492.94h2.6M817.05 492.94h-2.6M465 489.6h2.6M817.05 489.6h-2.6M465 487.02h2.6M817.05 487.02h-2.6M465 484.9h2.6M817.05 484.9h-2.6M465 483.12h2.6M817.05 483.12h-2.6M465 481.57h2.6M817.05 481.57h-2.6M465 480.2h2.6M817.05 480.2h-2.6M465 478.98h5.2M817.05 478.98h-5.2M465 470.95h2.6M817.05 470.95h-2.6M465 466.25h2.6M817.05 466.25h-2.6M465 462.92h2.6M817.05 462.92h-2.6M465 460.33h2.6M817.05 460.33h-2.6M465 458.22h2.6M817.05 458.22h-2.6M465 456.43h2.6M817.05 456.43h-2.6M465 454.89h2.6M817.05 454.89h-2.6M465 453.52h2.6M817.05 453.52h-2.6" stroke="#444" stroke-width="0.8" fill="none"/>
<rect x="465" y="452.3" width="352.05" height="160.1" fill="none" stroke="#555" stroke-width="1"/>
<text x="464.7" y="633.6" font-size="21.5" text-anchor="middle" fill="#000">18</text>
<text x="590.25" y="633.6" font-size="21.5" text-anchor="middle" fill="#000">19</text>
<text x="717.55" y="633.6" font-size="21.5" text-anchor="middle" fill="#000">20</text>
<text transform="translate(241.3,40.7) scale(1.0,1.05)" font-size="26.5" fill="#000" stroke="#000" stroke-width="0.2" text-anchor="start" >SOURCE</text>
<text transform="translate(150.2,147.6) scale(1.0,1.05)" font-size="26.5" fill="#000" stroke="#000" stroke-width="0.2" text-anchor="start" >Fe</text>
<text transform="translate(692.4,45.6) scale(1.0,1.05)" font-size="26.5" fill="#000" stroke="#000" stroke-width="0.2" text-anchor="start" >100 kpc</text>
<text transform="translate(271.3,267.2) scale(1.0,1.05)" font-size="26.5" fill="#000" stroke="#000" stroke-width="0.2" text-anchor="start" >1 Mpc</text>
<text transform="translate(224.5,299.6) scale(1.0,1.05)" font-size="26.5" fill="#f00" stroke="#f00" stroke-width="0.2" text-anchor="start" >Nuclei</text>
<text transform="translate(695.4,267.4) scale(1.0,1.05)" font-size="26.5" fill="#000" stroke="#000" stroke-width="0.2" text-anchor="start" >10 Mpc</text>
<text transform="translate(107.7,499.5) scale(1.0,1.05)" font-size="26.5" fill="#00f" stroke="#00f" stroke-width="0.2" text-anchor="start" >Proton</text>
<text transform="translate(263.2,489.3) scale(1.0,1.05)" font-size="26.5" fill="#000" stroke="#000" stroke-width="0.2" text-anchor="start" >50 Mpc</text>
<text transform="translate(688.2,489.3) scale(1.0,1.05)" font-size="26.5" fill="#000" stroke="#000" stroke-width="0.2" text-anchor="start" >100 Mpc</text>
<text transform="translate(151.8,654.5) scale(1.02,1.03)" font-size="21" fill="#000" stroke="#000" stroke-width="0.2" text-anchor="start" xml:space="preserve">log ( ENERGY  [eV] )</text>
<text transform="translate(590,654.5) scale(1.02,1.03)" font-size="21" fill="#000" stroke="#000" stroke-width="0.2" text-anchor="start" xml:space="preserve">log ( ENERGY  [eV] )</text>
<text transform="translate(21.4,482.4) rotate(-90) scale(1.0125,1.12)" font-size="21" fill="#000" xml:space="preserve">Number of Events  [arbitrary scale]</text>
<path d="M394.9 160.8H458.3M440.4 151.1L458.3 160.8L440.4 170.5" stroke="#00f" stroke-width="1.9" fill="none"/>
<path d="M394.9 382.5H458.3M440.4 372.8L458.3 382.5L440.4 392.2" stroke="#00f" stroke-width="1.9" fill="none"/>
<path d="M394.9 604.1H458.3M440.4 594.4L458.3 604.1L440.4 613.8" stroke="#00f" stroke-width="1.9" fill="none"/>
<path d="M451.1 184.6L398.3 224M406.8 205.8L398.3 224L418.3 221.3" stroke="#00f" stroke-width="1.9" fill="none"/>
<path d="M451.1 406.3L398.3 445.7M406.8 427.5L398.3 445.7L418.3 443" stroke="#00f" stroke-width="1.9" fill="none"/>
<path d="M296.2 310.2L322.8 323.5M317.2 317.1L322.8 323.5L314.6 323.3" stroke="#f33" stroke-width="0.7" fill="none"/>
<path d="M154.9 502.6L138.8 521.3M141 513.7L138.8 521.3L145.8 518.3" stroke="#33f" stroke-width="0.7" fill="none"/>
</svg>
</body></html>
